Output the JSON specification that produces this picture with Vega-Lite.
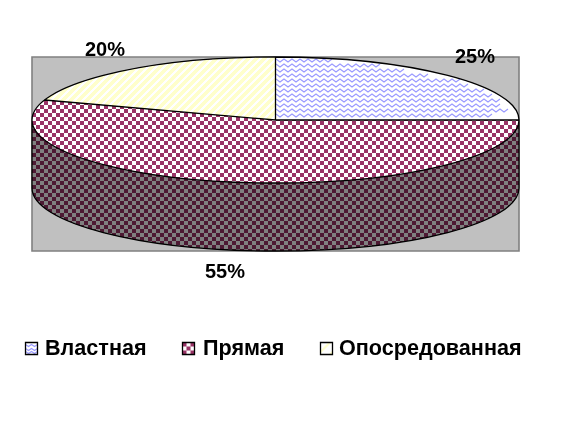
{"$schema":"https://vega.github.io/schema/vega-lite/v6.json","width":587,"height":428,"padding":0,"autosize":{"type":"none"},"background":"#ffffff","config":{"view":{"stroke":null}},"data":{"values":[{"slice":"Властная","share":25,"label":"25%"},{"slice":"Прямая","share":55,"label":"55%"},{"slice":"Опосредованная","share":20,"label":"20%"}]},"resolve":{"scale":{"x":"independent","y":"independent"}},"layer":[
{"transform":[{"filter":{"field":"share","equal":55}}],"mark":{"type":"point","opacity":1,"filled":true,"size":4,"shape":"M-261.5,-157H225.5V37H-261.5Z","fill":"#c0c0c0","stroke":"#808080","strokeWidth":1.6}},
{"transform":[{"filter":{"field":"share","equal":55}}],"mark":{"type":"point","opacity":1,"filled":true,"size":4,"strokeWidth":0,"shape":"M-261.5,-94A243.5,63 0 0 1 225.5,-94L225.5,-26A243.5,63 0 0 1 -261.5,-26Z","fill":{"gradient":"linear","x1":0,"y1":0,"x2":1.00205,"y2":0,"stops":[{"offset":0,"color":"#000"},{"offset":0.0082,"color":"#000"},{"offset":0.0082,"color":"#fff"},{"offset":0.0164,"color":"#fff"},{"offset":0.0164,"color":"#000"},{"offset":0.0246,"color":"#000"},{"offset":0.0246,"color":"#fff"},{"offset":0.0328,"color":"#fff"},{"offset":0.0328,"color":"#000"},{"offset":0.041,"color":"#000"},{"offset":0.041,"color":"#fff"},{"offset":0.0492,"color":"#fff"},{"offset":0.0492,"color":"#000"},{"offset":0.0574,"color":"#000"},{"offset":0.0574,"color":"#fff"},{"offset":0.0656,"color":"#fff"},{"offset":0.0656,"color":"#000"},{"offset":0.0738,"color":"#000"},{"offset":0.0738,"color":"#fff"},{"offset":0.082,"color":"#fff"},{"offset":0.082,"color":"#000"},{"offset":0.0902,"color":"#000"},{"offset":0.0902,"color":"#fff"},{"offset":0.0984,"color":"#fff"},{"offset":0.0984,"color":"#000"},{"offset":0.1066,"color":"#000"},{"offset":0.1066,"color":"#fff"},{"offset":0.1148,"color":"#fff"},{"offset":0.1148,"color":"#000"},{"offset":0.123,"color":"#000"},{"offset":0.123,"color":"#fff"},{"offset":0.1311,"color":"#fff"},{"offset":0.1311,"color":"#000"},{"offset":0.1393,"color":"#000"},{"offset":0.1393,"color":"#fff"},{"offset":0.1475,"color":"#fff"},{"offset":0.1475,"color":"#000"},{"offset":0.1557,"color":"#000"},{"offset":0.1557,"color":"#fff"},{"offset":0.1639,"color":"#fff"},{"offset":0.1639,"color":"#000"},{"offset":0.1721,"color":"#000"},{"offset":0.1721,"color":"#fff"},{"offset":0.1803,"color":"#fff"},{"offset":0.1803,"color":"#000"},{"offset":0.1885,"color":"#000"},{"offset":0.1885,"color":"#fff"},{"offset":0.1967,"color":"#fff"},{"offset":0.1967,"color":"#000"},{"offset":0.2049,"color":"#000"},{"offset":0.2049,"color":"#fff"},{"offset":0.2131,"color":"#fff"},{"offset":0.2131,"color":"#000"},{"offset":0.2213,"color":"#000"},{"offset":0.2213,"color":"#fff"},{"offset":0.2295,"color":"#fff"},{"offset":0.2295,"color":"#000"},{"offset":0.2377,"color":"#000"},{"offset":0.2377,"color":"#fff"},{"offset":0.2459,"color":"#fff"},{"offset":0.2459,"color":"#000"},{"offset":0.2541,"color":"#000"},{"offset":0.2541,"color":"#fff"},{"offset":0.2623,"color":"#fff"},{"offset":0.2623,"color":"#000"},{"offset":0.2705,"color":"#000"},{"offset":0.2705,"color":"#fff"},{"offset":0.2787,"color":"#fff"},{"offset":0.2787,"color":"#000"},{"offset":0.2869,"color":"#000"},{"offset":0.2869,"color":"#fff"},{"offset":0.2951,"color":"#fff"},{"offset":0.2951,"color":"#000"},{"offset":0.3033,"color":"#000"},{"offset":0.3033,"color":"#fff"},{"offset":0.3115,"color":"#fff"},{"offset":0.3115,"color":"#000"},{"offset":0.3197,"color":"#000"},{"offset":0.3197,"color":"#fff"},{"offset":0.3279,"color":"#fff"},{"offset":0.3279,"color":"#000"},{"offset":0.3361,"color":"#000"},{"offset":0.3361,"color":"#fff"},{"offset":0.3443,"color":"#fff"},{"offset":0.3443,"color":"#000"},{"offset":0.3525,"color":"#000"},{"offset":0.3525,"color":"#fff"},{"offset":0.3607,"color":"#fff"},{"offset":0.3607,"color":"#000"},{"offset":0.3689,"color":"#000"},{"offset":0.3689,"color":"#fff"},{"offset":0.377,"color":"#fff"},{"offset":0.377,"color":"#000"},{"offset":0.3852,"color":"#000"},{"offset":0.3852,"color":"#fff"},{"offset":0.3934,"color":"#fff"},{"offset":0.3934,"color":"#000"},{"offset":0.4016,"color":"#000"},{"offset":0.4016,"color":"#fff"},{"offset":0.4098,"color":"#fff"},{"offset":0.4098,"color":"#000"},{"offset":0.418,"color":"#000"},{"offset":0.418,"color":"#fff"},{"offset":0.4262,"color":"#fff"},{"offset":0.4262,"color":"#000"},{"offset":0.4344,"color":"#000"},{"offset":0.4344,"color":"#fff"},{"offset":0.4426,"color":"#fff"},{"offset":0.4426,"color":"#000"},{"offset":0.4508,"color":"#000"},{"offset":0.4508,"color":"#fff"},{"offset":0.459,"color":"#fff"},{"offset":0.459,"color":"#000"},{"offset":0.4672,"color":"#000"},{"offset":0.4672,"color":"#fff"},{"offset":0.4754,"color":"#fff"},{"offset":0.4754,"color":"#000"},{"offset":0.4836,"color":"#000"},{"offset":0.4836,"color":"#fff"},{"offset":0.4918,"color":"#fff"},{"offset":0.4918,"color":"#000"},{"offset":0.5,"color":"#000"},{"offset":0.5,"color":"#fff"},{"offset":0.5082,"color":"#fff"},{"offset":0.5082,"color":"#000"},{"offset":0.5164,"color":"#000"},{"offset":0.5164,"color":"#fff"},{"offset":0.5246,"color":"#fff"},{"offset":0.5246,"color":"#000"},{"offset":0.5328,"color":"#000"},{"offset":0.5328,"color":"#fff"},{"offset":0.541,"color":"#fff"},{"offset":0.541,"color":"#000"},{"offset":0.5492,"color":"#000"},{"offset":0.5492,"color":"#fff"},{"offset":0.5574,"color":"#fff"},{"offset":0.5574,"color":"#000"},{"offset":0.5656,"color":"#000"},{"offset":0.5656,"color":"#fff"},{"offset":0.5738,"color":"#fff"},{"offset":0.5738,"color":"#000"},{"offset":0.582,"color":"#000"},{"offset":0.582,"color":"#fff"},{"offset":0.5902,"color":"#fff"},{"offset":0.5902,"color":"#000"},{"offset":0.5984,"color":"#000"},{"offset":0.5984,"color":"#fff"},{"offset":0.6066,"color":"#fff"},{"offset":0.6066,"color":"#000"},{"offset":0.6148,"color":"#000"},{"offset":0.6148,"color":"#fff"},{"offset":0.623,"color":"#fff"},{"offset":0.623,"color":"#000"},{"offset":0.6311,"color":"#000"},{"offset":0.6311,"color":"#fff"},{"offset":0.6393,"color":"#fff"},{"offset":0.6393,"color":"#000"},{"offset":0.6475,"color":"#000"},{"offset":0.6475,"color":"#fff"},{"offset":0.6557,"color":"#fff"},{"offset":0.6557,"color":"#000"},{"offset":0.6639,"color":"#000"},{"offset":0.6639,"color":"#fff"},{"offset":0.6721,"color":"#fff"},{"offset":0.6721,"color":"#000"},{"offset":0.6803,"color":"#000"},{"offset":0.6803,"color":"#fff"},{"offset":0.6885,"color":"#fff"},{"offset":0.6885,"color":"#000"},{"offset":0.6967,"color":"#000"},{"offset":0.6967,"color":"#fff"},{"offset":0.7049,"color":"#fff"},{"offset":0.7049,"color":"#000"},{"offset":0.7131,"color":"#000"},{"offset":0.7131,"color":"#fff"},{"offset":0.7213,"color":"#fff"},{"offset":0.7213,"color":"#000"},{"offset":0.7295,"color":"#000"},{"offset":0.7295,"color":"#fff"},{"offset":0.7377,"color":"#fff"},{"offset":0.7377,"color":"#000"},{"offset":0.7459,"color":"#000"},{"offset":0.7459,"color":"#fff"},{"offset":0.7541,"color":"#fff"},{"offset":0.7541,"color":"#000"},{"offset":0.7623,"color":"#000"},{"offset":0.7623,"color":"#fff"},{"offset":0.7705,"color":"#fff"},{"offset":0.7705,"color":"#000"},{"offset":0.7787,"color":"#000"},{"offset":0.7787,"color":"#fff"},{"offset":0.7869,"color":"#fff"},{"offset":0.7869,"color":"#000"},{"offset":0.7951,"color":"#000"},{"offset":0.7951,"color":"#fff"},{"offset":0.8033,"color":"#fff"},{"offset":0.8033,"color":"#000"},{"offset":0.8115,"color":"#000"},{"offset":0.8115,"color":"#fff"},{"offset":0.8197,"color":"#fff"},{"offset":0.8197,"color":"#000"},{"offset":0.8279,"color":"#000"},{"offset":0.8279,"color":"#fff"},{"offset":0.8361,"color":"#fff"},{"offset":0.8361,"color":"#000"},{"offset":0.8443,"color":"#000"},{"offset":0.8443,"color":"#fff"},{"offset":0.8525,"color":"#fff"},{"offset":0.8525,"color":"#000"},{"offset":0.8607,"color":"#000"},{"offset":0.8607,"color":"#fff"},{"offset":0.8689,"color":"#fff"},{"offset":0.8689,"color":"#000"},{"offset":0.877,"color":"#000"},{"offset":0.877,"color":"#fff"},{"offset":0.8852,"color":"#fff"},{"offset":0.8852,"color":"#000"},{"offset":0.8934,"color":"#000"},{"offset":0.8934,"color":"#fff"},{"offset":0.9016,"color":"#fff"},{"offset":0.9016,"color":"#000"},{"offset":0.9098,"color":"#000"},{"offset":0.9098,"color":"#fff"},{"offset":0.918,"color":"#fff"},{"offset":0.918,"color":"#000"},{"offset":0.9262,"color":"#000"},{"offset":0.9262,"color":"#fff"},{"offset":0.9344,"color":"#fff"},{"offset":0.9344,"color":"#000"},{"offset":0.9426,"color":"#000"},{"offset":0.9426,"color":"#fff"},{"offset":0.9508,"color":"#fff"},{"offset":0.9508,"color":"#000"},{"offset":0.959,"color":"#000"},{"offset":0.959,"color":"#fff"},{"offset":0.9672,"color":"#fff"},{"offset":0.9672,"color":"#000"},{"offset":0.9754,"color":"#000"},{"offset":0.9754,"color":"#fff"},{"offset":0.9836,"color":"#fff"},{"offset":0.9836,"color":"#000"},{"offset":0.9918,"color":"#000"},{"offset":0.9918,"color":"#fff"},{"offset":1,"color":"#fff"}]}}},
{"transform":[{"filter":{"field":"share","equal":55}}],"mark":{"type":"point","opacity":1,"filled":true,"size":4,"strokeWidth":0,"blend":"difference","shape":"M-261.5,-94A243.5,63 0 0 1 225.5,-94L225.5,-26A243.5,63 0 0 1 -261.5,-26Z","fill":{"gradient":"linear","x1":0,"y1":0,"x2":0,"y2":1,"stops":[{"offset":0,"color":"#000"},{"offset":0.0206,"color":"#000"},{"offset":0.0206,"color":"#fff"},{"offset":0.0412,"color":"#fff"},{"offset":0.0412,"color":"#000"},{"offset":0.0619,"color":"#000"},{"offset":0.0619,"color":"#fff"},{"offset":0.0825,"color":"#fff"},{"offset":0.0825,"color":"#000"},{"offset":0.1031,"color":"#000"},{"offset":0.1031,"color":"#fff"},{"offset":0.1237,"color":"#fff"},{"offset":0.1237,"color":"#000"},{"offset":0.1443,"color":"#000"},{"offset":0.1443,"color":"#fff"},{"offset":0.1649,"color":"#fff"},{"offset":0.1649,"color":"#000"},{"offset":0.1856,"color":"#000"},{"offset":0.1856,"color":"#fff"},{"offset":0.2062,"color":"#fff"},{"offset":0.2062,"color":"#000"},{"offset":0.2268,"color":"#000"},{"offset":0.2268,"color":"#fff"},{"offset":0.2474,"color":"#fff"},{"offset":0.2474,"color":"#000"},{"offset":0.268,"color":"#000"},{"offset":0.268,"color":"#fff"},{"offset":0.2887,"color":"#fff"},{"offset":0.2887,"color":"#000"},{"offset":0.3093,"color":"#000"},{"offset":0.3093,"color":"#fff"},{"offset":0.3299,"color":"#fff"},{"offset":0.3299,"color":"#000"},{"offset":0.3505,"color":"#000"},{"offset":0.3505,"color":"#fff"},{"offset":0.3711,"color":"#fff"},{"offset":0.3711,"color":"#000"},{"offset":0.3918,"color":"#000"},{"offset":0.3918,"color":"#fff"},{"offset":0.4124,"color":"#fff"},{"offset":0.4124,"color":"#000"},{"offset":0.433,"color":"#000"},{"offset":0.433,"color":"#fff"},{"offset":0.4536,"color":"#fff"},{"offset":0.4536,"color":"#000"},{"offset":0.4742,"color":"#000"},{"offset":0.4742,"color":"#fff"},{"offset":0.4948,"color":"#fff"},{"offset":0.4948,"color":"#000"},{"offset":0.5155,"color":"#000"},{"offset":0.5155,"color":"#fff"},{"offset":0.5361,"color":"#fff"},{"offset":0.5361,"color":"#000"},{"offset":0.5567,"color":"#000"},{"offset":0.5567,"color":"#fff"},{"offset":0.5773,"color":"#fff"},{"offset":0.5773,"color":"#000"},{"offset":0.5979,"color":"#000"},{"offset":0.5979,"color":"#fff"},{"offset":0.6186,"color":"#fff"},{"offset":0.6186,"color":"#000"},{"offset":0.6392,"color":"#000"},{"offset":0.6392,"color":"#fff"},{"offset":0.6598,"color":"#fff"},{"offset":0.6598,"color":"#000"},{"offset":0.6804,"color":"#000"},{"offset":0.6804,"color":"#fff"},{"offset":0.701,"color":"#fff"},{"offset":0.701,"color":"#000"},{"offset":0.7216,"color":"#000"},{"offset":0.7216,"color":"#fff"},{"offset":0.7423,"color":"#fff"},{"offset":0.7423,"color":"#000"},{"offset":0.7629,"color":"#000"},{"offset":0.7629,"color":"#fff"},{"offset":0.7835,"color":"#fff"},{"offset":0.7835,"color":"#000"},{"offset":0.8041,"color":"#000"},{"offset":0.8041,"color":"#fff"},{"offset":0.8247,"color":"#fff"},{"offset":0.8247,"color":"#000"},{"offset":0.8454,"color":"#000"},{"offset":0.8454,"color":"#fff"},{"offset":0.866,"color":"#fff"},{"offset":0.866,"color":"#000"},{"offset":0.8866,"color":"#000"},{"offset":0.8866,"color":"#fff"},{"offset":0.9072,"color":"#fff"},{"offset":0.9072,"color":"#000"},{"offset":0.9278,"color":"#000"},{"offset":0.9278,"color":"#fff"},{"offset":0.9485,"color":"#fff"},{"offset":0.9485,"color":"#000"},{"offset":0.9691,"color":"#000"},{"offset":0.9691,"color":"#fff"},{"offset":0.9897,"color":"#fff"},{"offset":0.9897,"color":"#000"},{"offset":1,"color":"#000"}]}}},
{"transform":[{"filter":{"field":"share","equal":55}}],"mark":{"type":"point","opacity":1,"filled":true,"size":4,"strokeWidth":0,"blend":"multiply","fill":"#808080","shape":"M-261.5,-94A243.5,63 0 0 0 225.5,-94L225.5,-26A243.5,63 0 0 1 -261.5,-26Z"}},
{"transform":[{"filter":{"field":"share","equal":55}}],"mark":{"type":"point","opacity":1,"filled":true,"size":4,"strokeWidth":0,"blend":"lighten","fill":"#4d1933","shape":"M-261.5,-94A243.5,63 0 0 0 225.5,-94L225.5,-26A243.5,63 0 0 1 -261.5,-26Z"}},
{"transform":[{"filter":{"field":"share","equal":55}}],"mark":{"type":"point","opacity":1,"filled":true,"size":4,"strokeWidth":0,"blend":"lighten","fill":"#993366","shape":"M-261.5,-94A243.5,63 0 0 1 225.5,-94A243.5,63 0 0 1 -261.5,-94Z"}},
{"transform":[{"filter":{"field":"share","equal":20}}],"mark":{"type":"point","opacity":1,"filled":true,"size":4,"strokeWidth":0,"shape":"M-18,-94L-18,-157A243.5,63 0 0 0 -249,-114Z","fill":{"gradient":"linear","x1":0,"y1":0,"x2":1.1846,"y2":0.3231,"stops":[{"offset":0,"color":"#fff"},{"offset":0.0102,"color":"#fff"},{"offset":0.0102,"color":"#ffc"},{"offset":0.0272,"color":"#ffc"},{"offset":0.0272,"color":"#fff"},{"offset":0.0374,"color":"#fff"},{"offset":0.0374,"color":"#ffc"},{"offset":0.0544,"color":"#ffc"},{"offset":0.0544,"color":"#fff"},{"offset":0.0646,"color":"#fff"},{"offset":0.0646,"color":"#ffc"},{"offset":0.0816,"color":"#ffc"},{"offset":0.0816,"color":"#fff"},{"offset":0.0918,"color":"#fff"},{"offset":0.0918,"color":"#ffc"},{"offset":0.1088,"color":"#ffc"},{"offset":0.1088,"color":"#fff"},{"offset":0.119,"color":"#fff"},{"offset":0.119,"color":"#ffc"},{"offset":0.1361,"color":"#ffc"},{"offset":0.1361,"color":"#fff"},{"offset":0.1463,"color":"#fff"},{"offset":0.1463,"color":"#ffc"},{"offset":0.1633,"color":"#ffc"},{"offset":0.1633,"color":"#fff"},{"offset":0.1735,"color":"#fff"},{"offset":0.1735,"color":"#ffc"},{"offset":0.1905,"color":"#ffc"},{"offset":0.1905,"color":"#fff"},{"offset":0.2007,"color":"#fff"},{"offset":0.2007,"color":"#ffc"},{"offset":0.2177,"color":"#ffc"},{"offset":0.2177,"color":"#fff"},{"offset":0.2279,"color":"#fff"},{"offset":0.2279,"color":"#ffc"},{"offset":0.2449,"color":"#ffc"},{"offset":0.2449,"color":"#fff"},{"offset":0.2551,"color":"#fff"},{"offset":0.2551,"color":"#ffc"},{"offset":0.2721,"color":"#ffc"},{"offset":0.2721,"color":"#fff"},{"offset":0.2823,"color":"#fff"},{"offset":0.2823,"color":"#ffc"},{"offset":0.2993,"color":"#ffc"},{"offset":0.2993,"color":"#fff"},{"offset":0.3095,"color":"#fff"},{"offset":0.3095,"color":"#ffc"},{"offset":0.3265,"color":"#ffc"},{"offset":0.3265,"color":"#fff"},{"offset":0.3367,"color":"#fff"},{"offset":0.3367,"color":"#ffc"},{"offset":0.3537,"color":"#ffc"},{"offset":0.3537,"color":"#fff"},{"offset":0.3639,"color":"#fff"},{"offset":0.3639,"color":"#ffc"},{"offset":0.3809,"color":"#ffc"},{"offset":0.3809,"color":"#fff"},{"offset":0.3911,"color":"#fff"},{"offset":0.3911,"color":"#ffc"},{"offset":0.4082,"color":"#ffc"},{"offset":0.4082,"color":"#fff"},{"offset":0.4184,"color":"#fff"},{"offset":0.4184,"color":"#ffc"},{"offset":0.4354,"color":"#ffc"},{"offset":0.4354,"color":"#fff"},{"offset":0.4456,"color":"#fff"},{"offset":0.4456,"color":"#ffc"},{"offset":0.4626,"color":"#ffc"},{"offset":0.4626,"color":"#fff"},{"offset":0.4728,"color":"#fff"},{"offset":0.4728,"color":"#ffc"},{"offset":0.4898,"color":"#ffc"},{"offset":0.4898,"color":"#fff"},{"offset":0.5,"color":"#fff"},{"offset":0.5,"color":"#ffc"},{"offset":0.517,"color":"#ffc"},{"offset":0.517,"color":"#fff"},{"offset":0.5272,"color":"#fff"},{"offset":0.5272,"color":"#ffc"},{"offset":0.5442,"color":"#ffc"},{"offset":0.5442,"color":"#fff"},{"offset":0.5544,"color":"#fff"},{"offset":0.5544,"color":"#ffc"},{"offset":0.5714,"color":"#ffc"},{"offset":0.5714,"color":"#fff"},{"offset":0.5816,"color":"#fff"},{"offset":0.5816,"color":"#ffc"},{"offset":0.5986,"color":"#ffc"},{"offset":0.5986,"color":"#fff"},{"offset":0.6088,"color":"#fff"},{"offset":0.6088,"color":"#ffc"},{"offset":0.6258,"color":"#ffc"},{"offset":0.6258,"color":"#fff"},{"offset":0.636,"color":"#fff"},{"offset":0.636,"color":"#ffc"},{"offset":0.653,"color":"#ffc"},{"offset":0.653,"color":"#fff"},{"offset":0.6632,"color":"#fff"},{"offset":0.6632,"color":"#ffc"},{"offset":0.6803,"color":"#ffc"},{"offset":0.6803,"color":"#fff"},{"offset":0.6905,"color":"#fff"},{"offset":0.6905,"color":"#ffc"},{"offset":0.7075,"color":"#ffc"},{"offset":0.7075,"color":"#fff"},{"offset":0.7177,"color":"#fff"},{"offset":0.7177,"color":"#ffc"},{"offset":0.7347,"color":"#ffc"},{"offset":0.7347,"color":"#fff"},{"offset":0.7449,"color":"#fff"},{"offset":0.7449,"color":"#ffc"},{"offset":0.7619,"color":"#ffc"},{"offset":0.7619,"color":"#fff"},{"offset":0.7721,"color":"#fff"},{"offset":0.7721,"color":"#ffc"},{"offset":0.7891,"color":"#ffc"},{"offset":0.7891,"color":"#fff"},{"offset":0.7993,"color":"#fff"},{"offset":0.7993,"color":"#ffc"},{"offset":0.8163,"color":"#ffc"},{"offset":0.8163,"color":"#fff"},{"offset":0.8265,"color":"#fff"},{"offset":0.8265,"color":"#ffc"},{"offset":0.8435,"color":"#ffc"},{"offset":0.8435,"color":"#fff"},{"offset":0.8537,"color":"#fff"},{"offset":0.8537,"color":"#ffc"},{"offset":0.8707,"color":"#ffc"},{"offset":0.8707,"color":"#fff"},{"offset":0.8809,"color":"#fff"},{"offset":0.8809,"color":"#ffc"},{"offset":0.8979,"color":"#ffc"},{"offset":0.8979,"color":"#fff"},{"offset":0.9081,"color":"#fff"},{"offset":0.9081,"color":"#ffc"},{"offset":0.9251,"color":"#ffc"},{"offset":0.9251,"color":"#fff"},{"offset":0.9353,"color":"#fff"},{"offset":0.9353,"color":"#ffc"},{"offset":0.9524,"color":"#ffc"},{"offset":0.9524,"color":"#fff"},{"offset":0.9626,"color":"#fff"},{"offset":0.9626,"color":"#ffc"},{"offset":0.9796,"color":"#ffc"},{"offset":0.9796,"color":"#fff"},{"offset":0.9898,"color":"#fff"},{"offset":0.9898,"color":"#ffc"},{"offset":1,"color":"#ffc"}]}}},
{"transform":[{"filter":{"field":"share","equal":25}}],"mark":{"type":"point","opacity":1,"filled":true,"size":4,"strokeWidth":0,"fill":"#ffffff","shape":"M-18,-94L-18,-157A243.5,63 0 0 1 225.5,-94Z"}},
{"transform":[{"filter":{"field":"share","equal":25}}],"mark":{"type":"point","opacity":1,"filled":false,"size":4,"stroke":"#9999ff","strokeWidth":1.1,"shape":"M-17.5,-155l4,3 4,-3 4,3 4,-3 4,3 4,-3 4,3 4,-3 4,3 4,-3 4,3 4,-3 4,3 4,-3M-17.5,-150l4,3 4,-3 4,3 4,-3 4,3 4,-3 4,3 4,-3 4,3 4,-3 4,3 4,-3 4,3 4,-3 4,3 4,-3 4,3 4,-3 4,3 4,-3 4,3 4,-3 4,3 4,-3 4,3 4,-3M-17.5,-145l4,3 4,-3 4,3 4,-3 4,3 4,-3 4,3 4,-3 4,3 4,-3 4,3 4,-3 4,3 4,-3 4,3 4,-3 4,3 4,-3 4,3 4,-3 4,3 4,-3 4,3 4,-3 4,3 4,-3 4,3 4,-3 4,3 4,-3 4,3 4,-3M-17.5,-140l4,3 4,-3 4,3 4,-3 4,3 4,-3 4,3 4,-3 4,3 4,-3 4,3 4,-3 4,3 4,-3 4,3 4,-3 4,3 4,-3 4,3 4,-3 4,3 4,-3 4,3 4,-3 4,3 4,-3 4,3 4,-3 4,3 4,-3 4,3 4,-3 4,3 4,-3 4,3 4,-3 4,3 4,-3M-17.5,-135l4,3 4,-3 4,3 4,-3 4,3 4,-3 4,3 4,-3 4,3 4,-3 4,3 4,-3 4,3 4,-3 4,3 4,-3 4,3 4,-3 4,3 4,-3 4,3 4,-3 4,3 4,-3 4,3 4,-3 4,3 4,-3 4,3 4,-3 4,3 4,-3 4,3 4,-3 4,3 4,-3 4,3 4,-3 4,3 4,-3 4,3 4,-3 4,3 4,-3 4,3 4,-3M-17.5,-130l4,3 4,-3 4,3 4,-3 4,3 4,-3 4,3 4,-3 4,3 4,-3 4,3 4,-3 4,3 4,-3 4,3 4,-3 4,3 4,-3 4,3 4,-3 4,3 4,-3 4,3 4,-3 4,3 4,-3 4,3 4,-3 4,3 4,-3 4,3 4,-3 4,3 4,-3 4,3 4,-3 4,3 4,-3 4,3 4,-3 4,3 4,-3 4,3 4,-3 4,3 4,-3 4,3 4,-3M-17.5,-125l4,3 4,-3 4,3 4,-3 4,3 4,-3 4,3 4,-3 4,3 4,-3 4,3 4,-3 4,3 4,-3 4,3 4,-3 4,3 4,-3 4,3 4,-3 4,3 4,-3 4,3 4,-3 4,3 4,-3 4,3 4,-3 4,3 4,-3 4,3 4,-3 4,3 4,-3 4,3 4,-3 4,3 4,-3 4,3 4,-3 4,3 4,-3 4,3 4,-3 4,3 4,-3 4,3 4,-3 4,3 4,-3 4,3 4,-3M-17.5,-120l4,3 4,-3 4,3 4,-3 4,3 4,-3 4,3 4,-3 4,3 4,-3 4,3 4,-3 4,3 4,-3 4,3 4,-3 4,3 4,-3 4,3 4,-3 4,3 4,-3 4,3 4,-3 4,3 4,-3 4,3 4,-3 4,3 4,-3 4,3 4,-3 4,3 4,-3 4,3 4,-3 4,3 4,-3 4,3 4,-3 4,3 4,-3 4,3 4,-3 4,3 4,-3 4,3 4,-3 4,3 4,-3 4,3 4,-3 4,3 4,-3M-17.5,-115l4,3 4,-3 4,3 4,-3 4,3 4,-3 4,3 4,-3 4,3 4,-3 4,3 4,-3 4,3 4,-3 4,3 4,-3 4,3 4,-3 4,3 4,-3 4,3 4,-3 4,3 4,-3 4,3 4,-3 4,3 4,-3 4,3 4,-3 4,3 4,-3 4,3 4,-3 4,3 4,-3 4,3 4,-3 4,3 4,-3 4,3 4,-3 4,3 4,-3 4,3 4,-3 4,3 4,-3 4,3 4,-3 4,3 4,-3 4,3 4,-3 4,3 4,-3M-17.5,-110l4,3 4,-3 4,3 4,-3 4,3 4,-3 4,3 4,-3 4,3 4,-3 4,3 4,-3 4,3 4,-3 4,3 4,-3 4,3 4,-3 4,3 4,-3 4,3 4,-3 4,3 4,-3 4,3 4,-3 4,3 4,-3 4,3 4,-3 4,3 4,-3 4,3 4,-3 4,3 4,-3 4,3 4,-3 4,3 4,-3 4,3 4,-3 4,3 4,-3 4,3 4,-3 4,3 4,-3 4,3 4,-3 4,3 4,-3 4,3 4,-3 4,3 4,-3M-17.5,-105l4,3 4,-3 4,3 4,-3 4,3 4,-3 4,3 4,-3 4,3 4,-3 4,3 4,-3 4,3 4,-3 4,3 4,-3 4,3 4,-3 4,3 4,-3 4,3 4,-3 4,3 4,-3 4,3 4,-3 4,3 4,-3 4,3 4,-3 4,3 4,-3 4,3 4,-3 4,3 4,-3 4,3 4,-3 4,3 4,-3 4,3 4,-3 4,3 4,-3 4,3 4,-3 4,3 4,-3 4,3 4,-3 4,3 4,-3 4,3 4,-3 4,3 4,-3 4,3 4,-3M-17.5,-100l4,3 4,-3 4,3 4,-3 4,3 4,-3 4,3 4,-3 4,3 4,-3 4,3 4,-3 4,3 4,-3 4,3 4,-3 4,3 4,-3 4,3 4,-3 4,3 4,-3 4,3 4,-3 4,3 4,-3 4,3 4,-3 4,3 4,-3 4,3 4,-3 4,3 4,-3 4,3 4,-3 4,3 4,-3 4,3 4,-3 4,3 4,-3 4,3 4,-3 4,3 4,-3 4,3 4,-3 4,3 4,-3 4,3 4,-3 4,3 4,-3"}},
{"transform":[{"filter":{"field":"share","equal":55}}],"mark":{"type":"point","opacity":1,"filled":false,"size":4,"stroke":"#000000","strokeWidth":1.3,"shape":"M-261.5,-94A243.5,63 0 0 1 225.5,-94A243.5,63 0 0 1 -261.5,-94ZM-261.5,-94L-261.5,-26A243.5,63 0 0 0 225.5,-26L225.5,-94M-18,-157L-18,-94L-249,-114M-18,-94L225.5,-94"}},
{"mark":{"type":"text","font":"Liberation Sans","fontWeight":"bold","fontSize":20,"color":"#000000","baseline":"middle","align":"center"},"encoding":{"text":{"field":"label"},"x":{"field":"share","type":"quantitative","axis":null,"scale":{"domain":[20,25,55],"range":[105,475,225]}},"y":{"field":"share","type":"quantitative","axis":null,"scale":{"domain":[20,25,55],"range":[50,57,272]}}}},
{"mark":{"type":"text","font":"Liberation Sans","fontWeight":"bold","fontSize":21.6,"color":"#000000","baseline":"middle","align":"left"},"encoding":{"text":{"field":"slice"},"x":{"field":"share","type":"quantitative","axis":null,"scale":{"domain":[20,25,55],"range":[339,45,203]}},"y":{"field":"share","type":"quantitative","axis":null,"scale":{"domain":[20,55],"range":[349,349]}}}},
{"mark":{"type":"point","opacity":1,"filled":true,"size":4,"strokeWidth":0,"fill":"#ffffff","shape":"M-6,-6H6V6H-6Z"},"encoding":{"x":{"field":"share","type":"quantitative","axis":null,"scale":{"domain":[20,25,55],"range":[326.5,31.5,188.5]}},"y":{"field":"share","type":"quantitative","axis":null,"scale":{"domain":[20,55],"range":[348.5,348.5]}}}},
{"transform":[{"filter":{"field":"share","equal":25}}],"mark":{"type":"point","opacity":1,"filled":false,"size":4,"stroke":"#9999ff","strokeWidth":1.1,"shape":"M-6,-4l3,2 3,-2 3,2 3,-2M-6,0l3,2 3,-2 3,2 3,-2M-6,3l3,2 3,-2 3,2 3,-2"},"encoding":{"x":{"field":"share","type":"quantitative","axis":null,"scale":{"domain":[20,25,55],"range":[326.5,31.5,188.5]}},"y":{"field":"share","type":"quantitative","axis":null,"scale":{"domain":[20,55],"range":[348.5,348.5]}}}},
{"transform":[{"filter":{"field":"share","equal":55}}],"mark":{"type":"point","opacity":1,"filled":true,"size":4,"strokeWidth":0,"fill":"#993366","shape":"M-6,-6h4v4h-4zM2,-6h4v4h-4zM-2,-2h4v4h-4zM-6,2h4v4h-4zM2,2h4v4h-4z"},"encoding":{"x":{"field":"share","type":"quantitative","axis":null,"scale":{"domain":[20,25,55],"range":[326.5,31.5,188.5]}},"y":{"field":"share","type":"quantitative","axis":null,"scale":{"domain":[20,55],"range":[348.5,348.5]}}}},
{"transform":[{"filter":{"field":"share","equal":20}}],"mark":{"type":"point","opacity":1,"filled":true,"size":4,"strokeWidth":0,"fill":"#ffffcc","shape":"M-6,2L2,-6L5,-6L-6,5ZM2,6L6,2L6,5L5,6Z"},"encoding":{"x":{"field":"share","type":"quantitative","axis":null,"scale":{"domain":[20,25,55],"range":[326.5,31.5,188.5]}},"y":{"field":"share","type":"quantitative","axis":null,"scale":{"domain":[20,55],"range":[348.5,348.5]}}}},
{"mark":{"type":"point","opacity":1,"filled":false,"size":4,"stroke":"#000000","strokeWidth":1.3,"shape":"M-6,-6H6V6H-6Z"},"encoding":{"x":{"field":"share","type":"quantitative","axis":null,"scale":{"domain":[20,25,55],"range":[326.5,31.5,188.5]}},"y":{"field":"share","type":"quantitative","axis":null,"scale":{"domain":[20,55],"range":[348.5,348.5]}}}}
]}
